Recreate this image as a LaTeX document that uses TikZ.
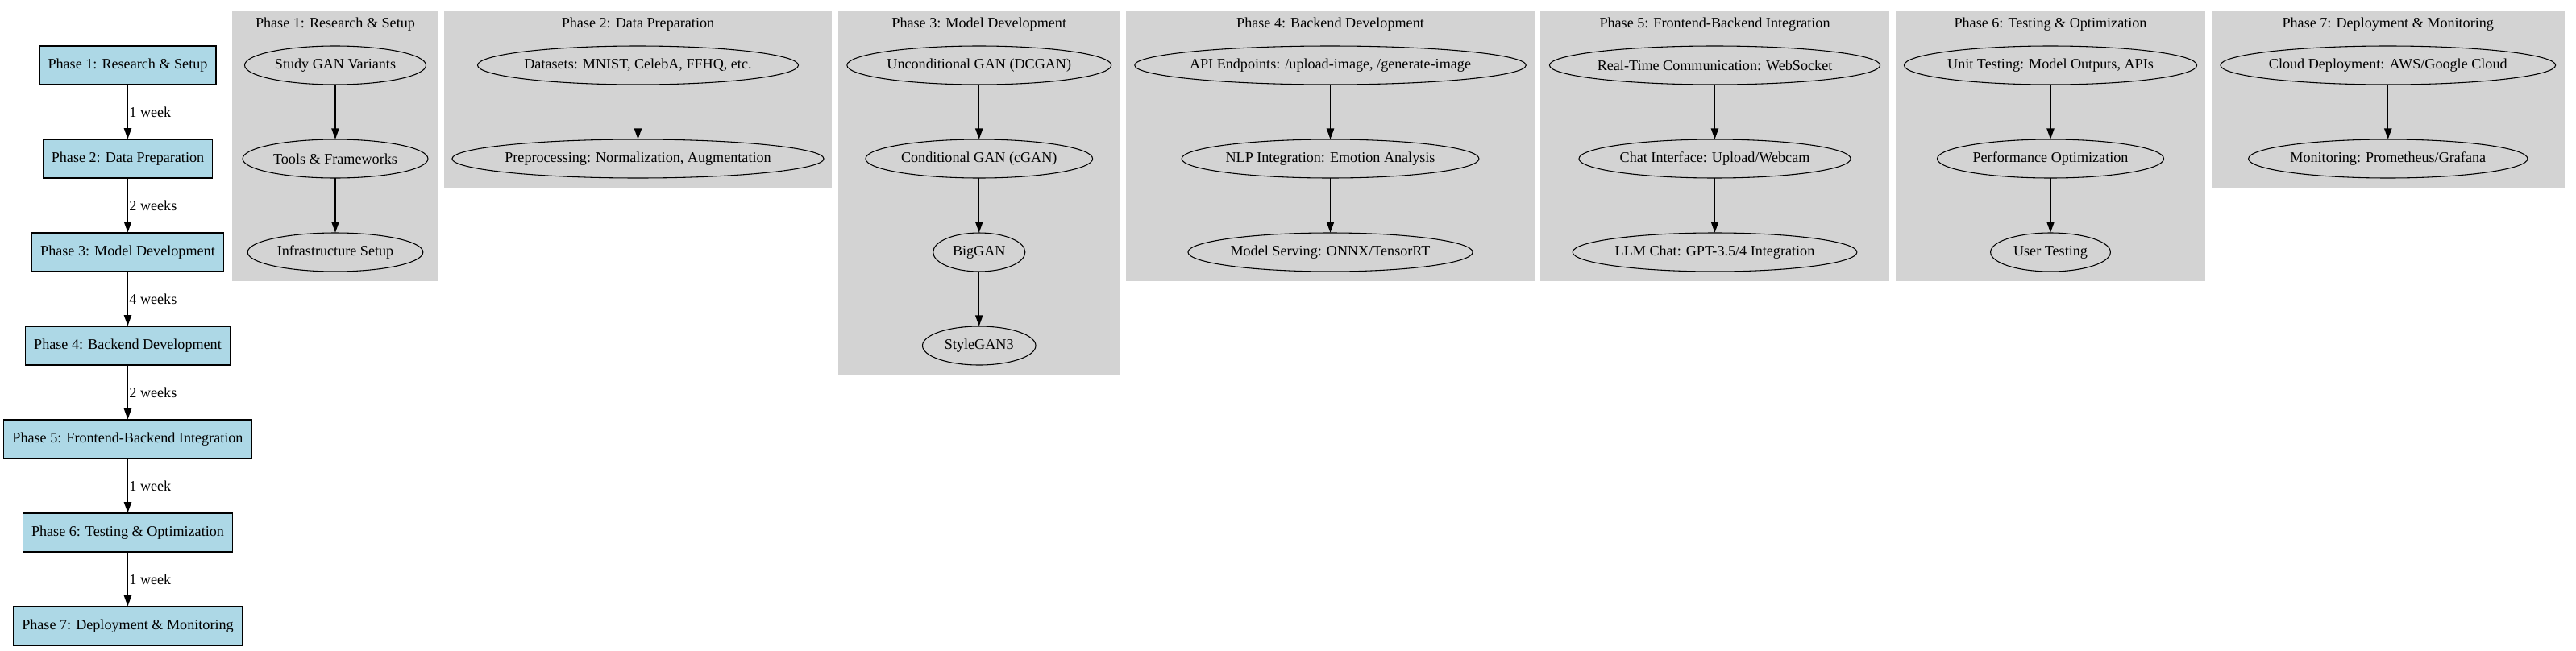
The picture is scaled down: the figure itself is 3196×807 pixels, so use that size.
\documentclass[tikz,border=0pt]{standalone}
\usepackage{fontspec}
\setmainfont{Liberation Serif}
\usetikzlibrary{arrows.meta,calc}
\definecolor{gvblue}{HTML}{ADD8E6}
\definecolor{gvgray}{HTML}{D3D3D3}
\tikzset{
  gvfont/.style={font=\fontsize{13.6pt}{16.3pt}\selectfont},
  phasebox/.style={draw=black, line width=0.8pt, fill=gvblue, rectangle, inner xsep=7.92pt, inner ysep=0pt, minimum height=36pt, minimum width=54pt, gvfont},
  ellabel/.style={rectangle, inner xsep=7.92pt, inner ysep=0pt, minimum height=36pt, gvfont},
  ellborder/.style={draw=black, line width=0.8pt},
  clusterbg/.style={fill=gvgray, draw=gvgray, line width=0.8pt},
  clustertitle/.style={gvfont, inner sep=0pt},
  gvarrow/.style={draw=black, line width=0.9pt, -{Triangle[length=10pt, width=7pt]}},
  weeklabel/.style={gvfont, anchor=west, inner sep=1pt},
}
\newcommand{\gvell}[4]{%
  \node[ellabel] (#1) at (#2,#3) {#4};
  \draw[ellborder] let \p1=($(#1.east)-(#1.west)$), \n1={0.655*\x1} in (#1.center) ellipse [x radius=\n1, y radius=18pt];
}
\begin{document}
\begin{tikzpicture}[x=0.75pt, y=-0.75pt]
\useasboundingbox (0,0) rectangle (3196,807);

% cluster backgrounds
\filldraw[clusterbg] (289,15) rectangle (543,348);
\filldraw[clusterbg] (552,15) rectangle (1031,232);
\filldraw[clusterbg] (1041,15) rectangle (1388.5,464);
\filldraw[clusterbg] (1398,15) rectangle (1903,348);
\filldraw[clusterbg] (1912,15) rectangle (2343,348);
\filldraw[clusterbg] (2352.5,15) rectangle (2735,348);
\filldraw[clusterbg] (2744.5,15) rectangle (3181,232);

% cluster titles
\node[clustertitle] (t1) at (416,30) {Phase 1: Research \& Setup};
\node[clustertitle] (t2) at (791.5,30) {Phase 2: Data Preparation};
\node[clustertitle] (t3) at (1214.75,30) {Phase 3: Model Development};
\node[clustertitle] (t4) at (1650.5,30) {Phase 4: Backend Development};
\node[clustertitle] (t5) at (2127.5,30) {Phase 5: Frontend-Backend Integration};
\node[clustertitle] (t6) at (2544,30) {Phase 6: Testing \& Optimization};
\node[clustertitle] (t7) at (2962.75,30) {Phase 7: Deployment \& Monitoring};

% main chain
\node[phasebox] (p1) at (158.5,81) {Phase 1: Research \& Setup};
\node[phasebox] (p2) at (158.5,197) {Phase 2: Data Preparation};
\node[phasebox] (p3) at (158.5,313) {Phase 3: Model Development};
\node[phasebox] (p4) at (158.5,429) {Phase 4: Backend Development};
\node[phasebox] (p5) at (158.5,545) {Phase 5: Frontend-Backend Integration};
\node[phasebox] (p6) at (158.5,661) {Phase 6: Testing \& Optimization};
\node[phasebox] (p7) at (158.5,777) {Phase 7: Deployment \& Monitoring};

\draw[gvarrow] (p1) -- node[weeklabel] {1 week} (p2);
\draw[gvarrow] (p2) -- node[weeklabel] {2 weeks} (p3);
\draw[gvarrow] (p3) -- node[weeklabel] {4 weeks} (p4);
\draw[gvarrow] (p4) -- node[weeklabel] {2 weeks} (p5);
\draw[gvarrow] (p5) -- node[weeklabel] {1 week} (p6);
\draw[gvarrow] (p6) -- node[weeklabel] {1 week} (p7);

% cluster 1
\gvell{a1}{416}{81}{Study GAN Variants}
\gvell{a2}{416}{197}{Tools \& Frameworks}
\gvell{a3}{416}{313}{Infrastructure Setup}
\draw[gvarrow] (a1) -- (a2);
\draw[gvarrow] (a2) -- (a3);

% cluster 2
\gvell{b1}{791.5}{81}{Datasets: MNIST, CelebA, FFHQ, etc.}
\gvell{b2}{791.5}{197}{Preprocessing: Normalization, Augmentation}
\draw[gvarrow] (b1) -- (b2);

% cluster 3
\gvell{c1}{1214.75}{81}{Unconditional GAN (DCGAN)}
\gvell{c2}{1214.75}{197}{Conditional GAN (cGAN)}
\gvell{c3}{1214.75}{313}{BigGAN}
\gvell{c4}{1214.75}{429}{StyleGAN3}
\draw[gvarrow] (c1) -- (c2);
\draw[gvarrow] (c2) -- (c3);
\draw[gvarrow] (c3) -- (c4);

% cluster 4
\gvell{d1}{1650.5}{81}{API Endpoints: /upload-image, /generate-image}
\gvell{d2}{1650.5}{197}{NLP Integration: Emotion Analysis}
\gvell{d3}{1650.5}{313}{Model Serving: ONNX/TensorRT}
\draw[gvarrow] (d1) -- (d2);
\draw[gvarrow] (d2) -- (d3);

% cluster 5
\gvell{e1}{2127.5}{81}{Real-Time Communication: WebSocket}
\gvell{e2}{2127.5}{197}{Chat Interface: Upload/Webcam}
\gvell{e3}{2127.5}{313}{LLM Chat: GPT-3.5/4 Integration}
\draw[gvarrow] (e1) -- (e2);
\draw[gvarrow] (e2) -- (e3);

% cluster 6
\gvell{f1}{2544}{81}{Unit Testing: Model Outputs, APIs}
\gvell{f2}{2544}{197}{Performance Optimization}
\gvell{f3}{2544}{313}{User Testing}
\draw[gvarrow] (f1) -- (f2);
\draw[gvarrow] (f2) -- (f3);

% cluster 7
\gvell{g1}{2962.75}{81}{Cloud Deployment: AWS/Google Cloud}
\gvell{g2}{2962.75}{197}{Monitoring: Prometheus/Grafana}
\draw[gvarrow] (g1) -- (g2);
\end{tikzpicture}
\end{document}
